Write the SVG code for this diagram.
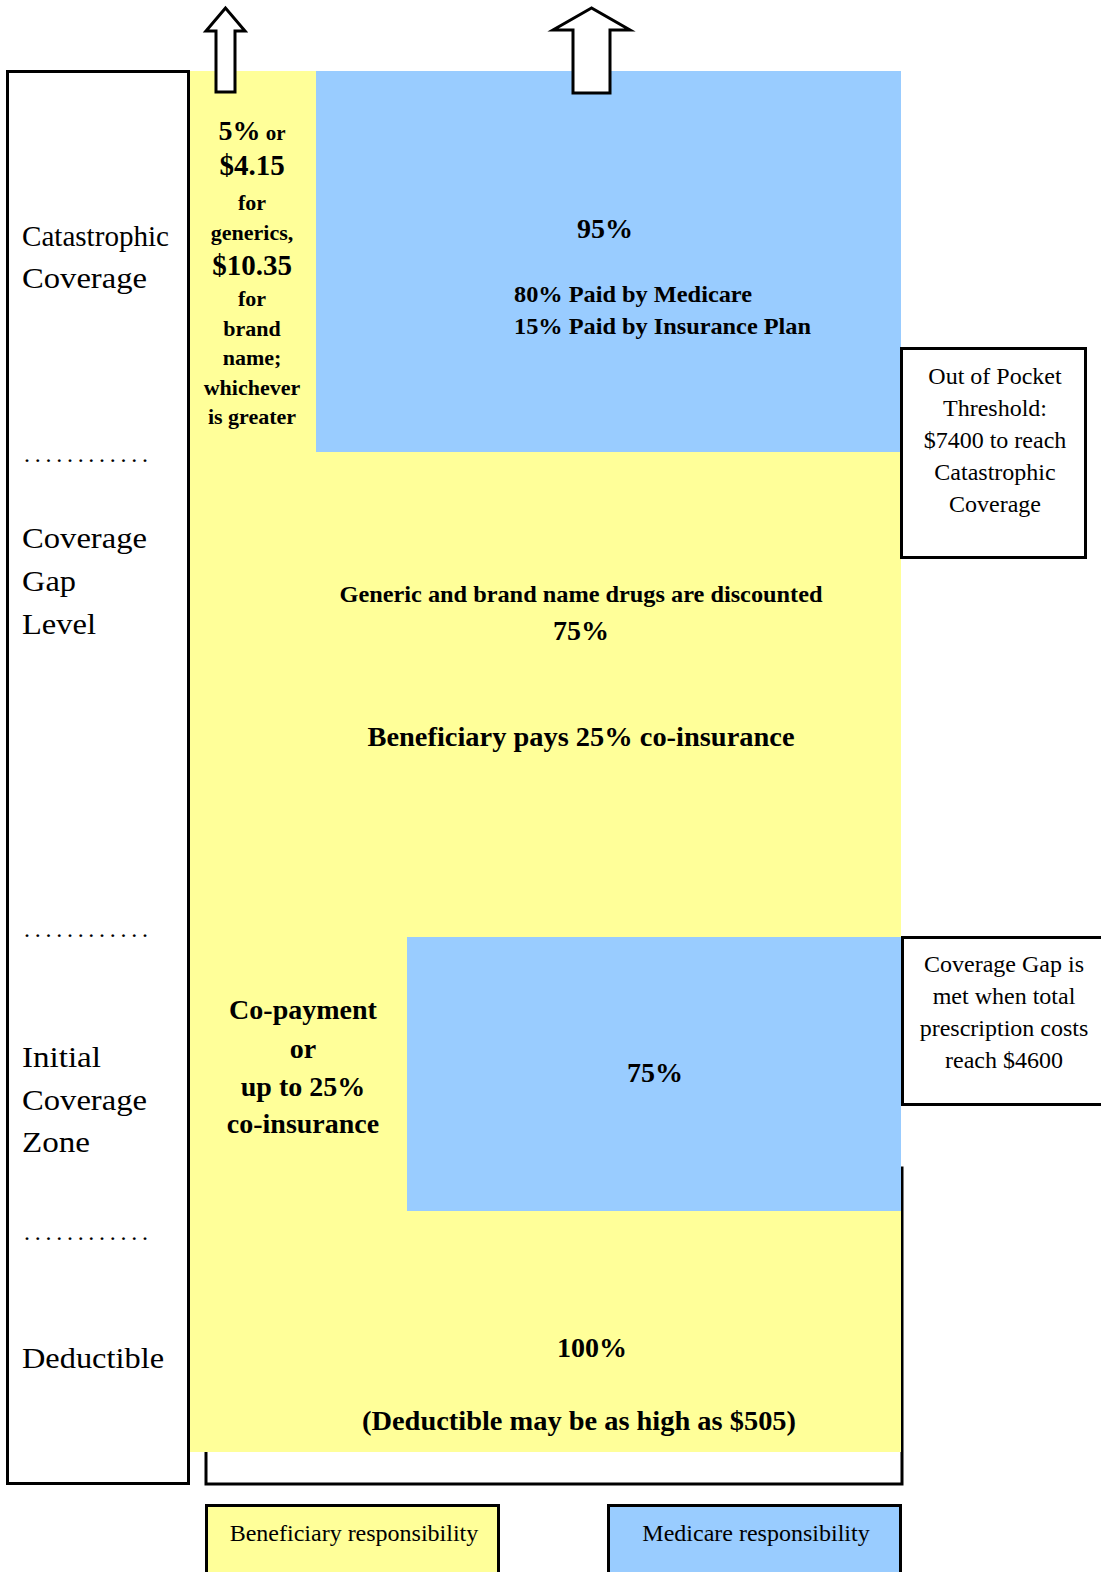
<svg xmlns="http://www.w3.org/2000/svg" width="1101" height="1572" viewBox="0 0 1101 1572">
<style>
  text { font-family: "Liberation Serif", "Times New Roman", serif; fill: #000; }
  .lbl { font-size: 30px; }
  .dots { font-size: 24px; }
  .b { font-weight: bold; }
  .c { text-anchor: middle; }
  .s22 { font-size: 22px; }
  .s24 { font-size: 24px; }
  .s28 { font-size: 28px; }
  .s29 { font-size: 29px; }
  .box { fill: #ffffff; stroke: #000; stroke-width: 3; }
  .yel { fill: #FFFF99; }
  .blu { fill: #99CCFF; }
  .arrow { fill: #ffffff; stroke: #000; stroke-width: 3; stroke-linejoin: miter; }
</style>

<g id="frame">
  <rect x="206" y="1168" width="696" height="316" fill="none" stroke="#000" stroke-width="3"/>
</g>

<g id="left-column">
  <rect class="box" x="7.5" y="71.5" width="181" height="1412"/>
  <text class="lbl" x="22" y="246" textLength="147" lengthAdjust="spacingAndGlyphs">Catastrophic</text>
  <text class="lbl" x="22" y="288" textLength="125" lengthAdjust="spacingAndGlyphs">Coverage</text>
  <text class="dots" x="24" y="462" textLength="124" lengthAdjust="spacing">............</text>
  <text class="lbl" x="22" y="548" textLength="125" lengthAdjust="spacingAndGlyphs">Coverage</text>
  <text class="lbl" x="22" y="591" textLength="54" lengthAdjust="spacingAndGlyphs">Gap</text>
  <text class="lbl" x="22" y="634" textLength="74" lengthAdjust="spacingAndGlyphs">Level</text>
  <text class="dots" x="24" y="937" textLength="124" lengthAdjust="spacing">............</text>
  <text class="lbl" x="22" y="1067" textLength="79" lengthAdjust="spacingAndGlyphs">Initial</text>
  <text class="lbl" x="22" y="1110" textLength="125" lengthAdjust="spacingAndGlyphs">Coverage</text>
  <text class="lbl" x="22" y="1152" textLength="68" lengthAdjust="spacingAndGlyphs">Zone</text>
  <text class="dots" x="24" y="1240" textLength="124" lengthAdjust="spacing">............</text>
  <text class="lbl" x="22" y="1368" textLength="142" lengthAdjust="spacingAndGlyphs">Deductible</text>
</g>

<g id="beneficiary-area">
  <rect class="yel" x="190" y="71" width="711" height="1381"/>
</g>

<g id="catastrophic-beneficiary">
  <text class="b c" x="252" y="140"><tspan font-size="28">5%</tspan><tspan font-size="21"> or</tspan></text>
  <text class="b c s29" x="252" y="175">$4.15</text>
  <text class="b c s22" x="252" y="210">for</text>
  <text class="b c s22" x="252" y="240">generics,</text>
  <text class="b c s29" x="252" y="275">$10.35</text>
  <text class="b c s22" x="252" y="306">for</text>
  <text class="b c s22" x="252" y="336">brand</text>
  <text class="b c s22" x="252" y="365">name;</text>
  <text class="b c s22" x="252" y="395">whichever</text>
  <text class="b c s22" x="252" y="424">is greater</text>
</g>

<g id="catastrophic-medicare">
  <rect class="blu" x="316" y="71" width="585" height="381"/>
  <text class="b c s28" x="605" y="238">95%</text>
  <text class="b s24" x="514" y="302" textLength="238" lengthAdjust="spacingAndGlyphs">80% Paid by Medicare</text>
  <text class="b s24" x="514" y="334" textLength="297" lengthAdjust="spacingAndGlyphs">15% Paid by Insurance Plan</text>
</g>

<g id="coverage-gap">
  <text class="b c s24" x="581" y="602" textLength="483" lengthAdjust="spacingAndGlyphs">Generic and brand name drugs are discounted</text>
  <text class="b c s28" x="581" y="640">75%</text>
  <text class="b c s28" x="581" y="746" textLength="427" lengthAdjust="spacingAndGlyphs">Beneficiary pays 25% co-insurance</text>
</g>

<g id="initial-beneficiary">
  <text class="b c s28" x="303" y="1019">Co-payment</text>
  <text class="b c s28" x="303" y="1058">or</text>
  <text class="b c s28" x="303" y="1096">up to 25%</text>
  <text class="b c s28" x="303" y="1133">co-insurance</text>
</g>

<g id="initial-medicare">
  <rect class="blu" x="407" y="937" width="494" height="274"/>
  <text class="b c s28" x="655" y="1082">75%</text>
</g>

<g id="deductible">
  <text class="b c s28" x="592" y="1357">100%</text>
  <text class="b c s28" x="579" y="1430" textLength="434" lengthAdjust="spacingAndGlyphs">(Deductible may be as high as $505)</text>
</g>

<g id="oop-threshold">
  <rect class="box" x="901.5" y="348.5" width="184" height="209"/>
  <text class="c s24" x="995" y="384">Out of Pocket</text>
  <text class="c s24" x="995" y="416">Threshold:</text>
  <text class="c s24" x="995" y="448">$7400 to reach</text>
  <text class="c s24" x="995" y="480">Catastrophic</text>
  <text class="c s24" x="995" y="512">Coverage</text>
</g>

<g id="gap-met">
  <rect class="box" x="902.5" y="937.5" width="210" height="167"/>
  <text class="c s24" x="1004" y="972">Coverage Gap is</text>
  <text class="c s24" x="1004" y="1004">met when total</text>
  <text class="c s24" x="1004" y="1036">prescription costs</text>
  <text class="c s24" x="1004" y="1068">reach $4600</text>
</g>

<g id="legend-beneficiary">
  <rect class="box" x="206.5" y="1505.5" width="292" height="80" style="fill:#FFFF99"/>
  <text class="c s24" x="354" y="1541">Beneficiary responsibility</text>
</g>

<g id="legend-medicare">
  <rect class="box" x="608.5" y="1505.5" width="292" height="80" style="fill:#99CCFF"/>
  <text class="c s24" x="756" y="1541">Medicare responsibility</text>
</g>

<g id="connectors">
  <polygon class="arrow" points="225.5,8 206,31 216,31 216,92 235,92 235,31 245,31"/>
  <polygon class="arrow" points="591.5,8 553,30 573,30 573,93 610,93 610,30 630,30"/>
</g>
</svg>
